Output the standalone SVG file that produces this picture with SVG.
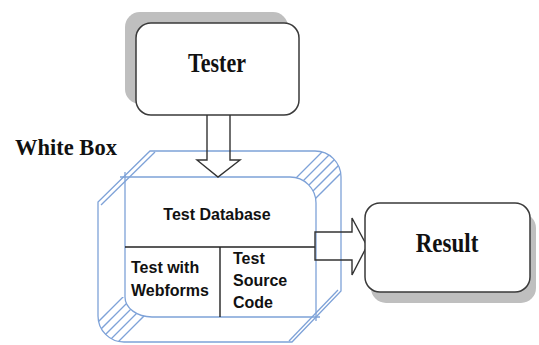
<svg xmlns="http://www.w3.org/2000/svg" width="539" height="345" viewBox="0 0 539 345">
  <style>
    .box { fill: #ffffff; stroke: #3a3a3a; stroke-width: 1.5; }
    .shadow { fill: #bfbfbf; }
    .bevel { fill: none; stroke: #7ea2d8; stroke-width: 1.3; }
    .divider { fill: none; stroke: #222222; stroke-width: 1.4; }
    .arrow { fill: none; stroke: #333333; stroke-width: 1.4; stroke-linejoin: miter; }
    .title { font-family: "Liberation Serif", "Times New Roman", serif; font-weight: bold; fill: #111111; }
    .label { font-family: "Liberation Sans", Arial, sans-serif; font-weight: bold; font-size: 16px; fill: #111111; }
  </style>
  <defs>
    <clipPath id="clip-tr">
      <path d="M290,151 H315 A26,26 0 0 1 341,177 V203 H316 A26,26 0 0 0 290,177 Z"/>
    </clipPath>
    <clipPath id="clip-bl">
      <path d="M98,297 H125 A27,20 0 0 0 152,317 V342 H124 A26,26 0 0 1 98,316 Z"/>
    </clipPath>
  </defs>

  <!-- Tester -->
  <g id="tester">
    <rect class="shadow" x="125" y="12" width="163" height="92" rx="15"/>
    <rect class="box" x="136" y="23" width="163" height="92" rx="15"/>
    <text class="title" font-size="22" text-anchor="middle" transform="translate(217,72) scale(1,1.22)">Tester</text>
  </g>

  <!-- White Box caption -->
  <g id="white-box-label">
    <text class="title" font-size="22.5" x="15" y="155">White Box</text>
  </g>

  <!-- White box: bevelled frame with its three inner parts -->
  <g id="white-box">
    <path class="bevel" d="M150,151 H315 A26,26 0 0 1 341,177 V291 L292,342 H124 A26,26 0 0 1 98,316 V202 Z"/>
    <!-- chamfer double lines -->
    <line class="bevel" x1="155" y1="152" x2="101" y2="205"/>
    <line class="bevel" x1="338" y1="290" x2="289" y2="341"/>
    <!-- inner face -->
    <path class="bevel" d="M120,177 H290 A26,26 0 0 1 316,203 V321"/>
    <path class="bevel" d="M125,172 V297 A27,20 0 0 0 152,317 H320"/>
    <!-- hatched rounded corners -->
    <g clip-path="url(#clip-tr)">
      <line class="bevel" x1="294" y1="180" x2="334" y2="140"/>
      <line class="bevel" x1="300" y1="184" x2="344" y2="140"/>
      <line class="bevel" x1="304" y1="190" x2="354" y2="140"/>
      <line class="bevel" x1="308" y1="196" x2="364" y2="140"/>
      <line class="bevel" x1="312" y1="202" x2="374" y2="140"/>
    </g>
    <g clip-path="url(#clip-bl)">
      <line class="bevel" x1="90" y1="330" x2="140" y2="280"/>
      <line class="bevel" x1="90" y1="340" x2="150" y2="280"/>
      <line class="bevel" x1="90" y1="350" x2="160" y2="280"/>
      <line class="bevel" x1="100" y1="350" x2="170" y2="280"/>
      <line class="bevel" x1="110" y1="350" x2="180" y2="280"/>
    </g>
    <!-- dividers -->
    <line class="divider" x1="125" y1="247" x2="315" y2="247"/>
    <line class="divider" x1="220" y1="247" x2="220" y2="317"/>
    <!-- labels -->
    <text class="label" x="217" y="220" text-anchor="middle">Test Database</text>
    <text class="label" x="131" y="273">Test with</text>
    <text class="label" x="131" y="296">Webforms</text>
    <text class="label" x="233" y="264">Test</text>
    <text class="label" x="233" y="286">Source</text>
    <text class="label" x="233" y="308">Code</text>
  </g>

  <!-- Block arrows -->
  <g id="connectors">
    <path class="arrow" d="M207,115 V160 H197 L218,177 L240,160 H230 V115"/>
    <path class="arrow" d="M315,232 H352 V218 L367,246 L352,275 V260 H315 Z"/>
  </g>

  <!-- Result -->
  <g id="result">
    <rect class="shadow" x="371" y="213" width="165" height="90" rx="15"/>
    <rect class="box" x="365" y="203" width="165" height="89" rx="15"/>
    <text class="title" font-size="23" text-anchor="middle" transform="translate(447,252) scale(1,1.2)">Result</text>
  </g>
</svg>
